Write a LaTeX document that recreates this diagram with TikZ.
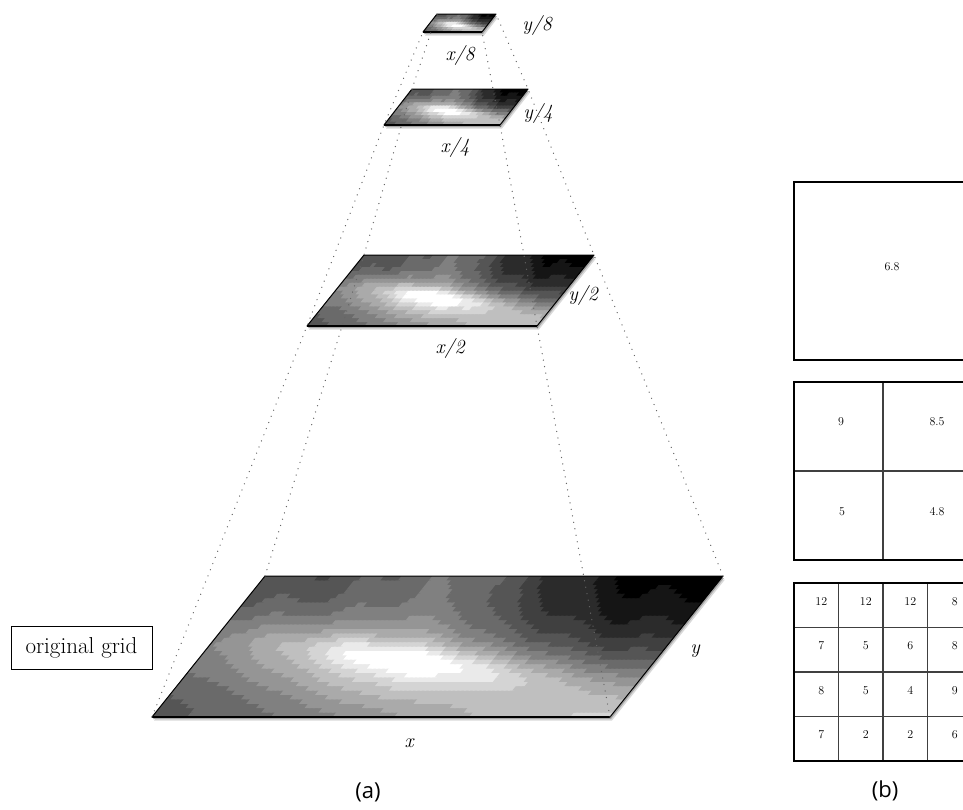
\documentclass[tikz,border=0pt]{standalone}
\usepackage{fontspec}
\newfontfamily\capfont{Open Sans}
\tikzset{
  dotline/.style={black!60, line width=1.3pt, dash pattern=on 0.1pt off 6.5pt, line cap=round},
  lab/.style={font=\fontsize{20}{23}\selectfont\itshape, inner sep=0pt},
  num/.style={font=\fontsize{12}{14}\selectfont, inner sep=0pt},
  capt/.style={font=\capfont\fontsize{22}{26}\selectfont, inner sep=0pt},
  outerbox/.style={line width=1.8pt, black},
  innerline/.style={line width=1.1pt, black!75},
  gridlabel/.style={draw, line width=1pt, font=\fontsize{23}{26}\selectfont, minimum width=141pt, minimum height=43pt, inner sep=0pt},
}
% #1 name, #2 BLx, #3 BLy, #4 width, #5 skew offset, #6 height, #7 nu, #8 nv
\newcommand\contourlayer[8]{%
  \begin{scope}[shift={(#2,#3)}, x={(#4pt,0pt)}, y={(#5pt,#6pt)}]
    \fill[black!15, xshift=2pt, yshift=-3.5pt] (0,0)--(1,0)--(1,1)--(0,1)--cycle;
    \fill[black!35, xshift=1pt, yshift=-2pt] (0,0)--(1,0)--(1,1)--(0,1)--cycle;
    \begin{scope}
      \clip (0,0)--(1,0)--(1,1)--(0,1)--cycle;
      \foreach \j in {1,...,#8}{
        \foreach \i in {1,...,#7}{
          \pgfmathsetmacro\cu{(\i-0.5)/#7}
          \pgfmathsetmacro\cv{(\j-0.5)/#8}
          \pgfmathsetmacro\cw{pow(\cv,0.6)}
          \pgfmathsetmacro\bt{(0.3+0.15*exp(0-((\cu-0.4)/0.18)*((\cu-0.4)/0.18)))*(1-max(0,min(1,(\cu-0.5)/0.35)))}
          \pgfmathsetmacro\pa{((\cu-0.55)*0.907-(\cv-0.30)*0.421)/0.78}
          \pgfmathsetmacro\pb{((\cu-0.55)*0.421+(\cv-0.30)*0.907)/0.27}
          \pgfmathsetmacro\qa{((\cu-0.47)*0.907-(\cv-0.40)*0.421)/0.32}
          \pgfmathsetmacro\qb{((\cu-0.47)*0.421+(\cv-0.40)*0.907)/0.10}
          \pgfmathsetmacro\zz{0.03+(1-\cw)*(0.35+0.28*\cu)+\cw*\bt+0.4*exp(max(-9,0-(\pa)*(\pa)-(\pb)*(\pb)))+0.26*exp(max(-9,0-(\qa)*(\qa)-(\qb)*(\qb)))+0.03*sin(deg(38*\cu+6*\cv))*\cv}
          \pgfmathsetmacro\gv{max(0,min(12,floor(\zz*12)))/12}
          \definecolor{cc}{gray}{\gv}
          \fill[cc] ({(\i-1)/#7},{(\j-1)/#8}) -- ({(\i+0.4)/#7},{(\j-1)/#8}) -- ({(\i+0.4)/#7},{(\j+0.4)/#8}) -- ({(\i-1)/#7},{(\j+0.4)/#8}) -- cycle;
        }
      }
    \end{scope}
    \draw[line width=1pt, line join=round] (0,0)--(1,0)--(1,1)--(0,1)--cycle;
    \draw[line width=1.8pt] (0,0)--(1,0);
    \coordinate (#1bl) at (0,0);
    \coordinate (#1br) at (1,0);
    \coordinate (#1tl) at (0,1);
    \coordinate (#1tr) at (1,1);
  \end{scope}
}
\begin{document}
\begin{tikzpicture}[x=1pt,y=-1pt]
\useasboundingbox (0,0) rectangle (963,809);

% layers of the pyramid
\contourlayer{Lone}{152}{717}{458}{113}{141}{104}{32}
\contourlayer{Ltwo}{307}{326}{230}{57}{71}{60}{18}
\contourlayer{Lfour}{384}{125}{116}{28}{36}{36}{11}
\contourlayer{Leight}{423}{32}{59}{14}{18}{22}{7}

% dotted pyramid edges
\foreach \c in {bl,br,tl,tr}{
  \draw[dotline] (Lone\c) -- (Ltwo\c) -- (Lfour\c) -- (Leight\c);
}

% axis labels
\node[lab] (x8) at (460,55) {x/8};
\node[lab] (y8) at (537,25) {y/8};
\node[lab] (x4) at (455,147) {x/4};
\node[lab] (y4) at (538,113) {y/4};
\node[lab] (x2) at (450,348) {x/2};
\node[lab] (y2) at (583,295) {y/2};
\node[lab] (x1) at (409,743) {x};
\node[lab] (y1) at (695,651) {y};

\node[gridlabel] (og) at (81.5,647.5) {original grid};

\node[capt] (capa) at (368,792) {(a)};
\node[capt] (capb) at (885,791) {(b)};

% right panel: aggregated grids
\draw[outerbox] (794,182) rectangle (972,360);
\node[num] (v68) at (892,267) {6.8};

\draw[innerline] (883,382) -- (883,560);
\draw[innerline] (794,471) -- (972,471);
\draw[outerbox] (794,382) rectangle (972,560);
\node[num] (va) at (841,422) {9};
\node[num] (vb) at (937,422) {8.5};
\node[num] (vc) at (842,512) {5};
\node[num] (vd) at (937,512) {4.8};

\foreach \xx in {838.5,883,927.5}{\draw[innerline] (\xx,583) -- (\xx,761);}
\foreach \yy in {627.5,672,716.5}{\draw[innerline] (794,\yy) -- (972,\yy);}
\draw[outerbox] (794,583) rectangle (972,761);
\foreach \r/\rowvals in {1/{12,12,12,8},2/{7,5,6,8},3/{8,5,4,9},4/{7,2,2,6}}{
  \foreach \val [count=\k] in \rowvals{
    \node[num] (g\r\k) at ({794+44.5*\k-17.25},{583+44.5*\r-26.25}) {\val};
  }
}
\end{tikzpicture}
\end{document}
